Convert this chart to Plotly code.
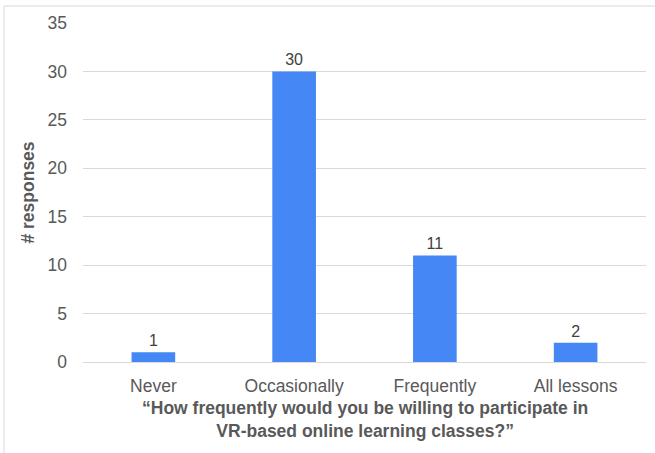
import plotly.graph_objects as go

categories = ["Never", "Occasionally", "Frequently", "All lessons"]
responses = [1, 30, 11, 2]
y_ticks = [0, 5, 10, 15, 20, 25, 30, 35]
x_title_lines = [
    "“How frequently would you be willing to participate in",
    "VR-based online learning classes?”",
]
y_title = "# responses"

FONT = "Liberation Sans, Arial, sans-serif"
TEXT = "#595959"

fig = go.Figure(
    go.Bar(
        x=categories,
        y=responses,
        width=0.31,
        marker=dict(color="#4487F5", line=dict(width=0)),
        text=[str(v) for v in responses],
        textposition="outside",
        textfont=dict(family=FONT, size=16, color="#404040"),
        cliponaxis=False,
    )
)

fig.update_layout(
    width=655,
    height=453,
    margin=dict(l=83, r=9, t=23, b=91),
    paper_bgcolor="white",
    plot_bgcolor="white",
    showlegend=False,
    font=dict(family=FONT, color=TEXT),
    bargap=0.69,
)

fig.update_yaxes(
    range=[0, 35],
    tickvals=y_ticks,
    showgrid=True,
    gridcolor="#d9d9d9",
    gridwidth=1,
    zeroline=True,
    zerolinecolor="#d9d9d9",
    zerolinewidth=1,
    ticks="",
    ticklabelstandoff=15,
    tickfont=dict(family=FONT, size=17.5, color=TEXT),
    title=dict(text="<b>" + y_title + "</b>", font=dict(family=FONT, size=17.5, color=TEXT), standoff=8),
)

fig.update_xaxes(
    showgrid=False,
    ticks="",
    tickfont=dict(family=FONT, size=17.5, color=TEXT),
    ticklabelstandoff=11,
)

# two-line bold axis caption below the category labels
fig.add_annotation(
    text="<br>".join("<b>" + line + "</b>" for line in x_title_lines),
    xref="paper", yref="paper",
    x=0.5, y=(362 - 419) / 339,
    xanchor="center", yanchor="middle",
    showarrow=False,
    font=dict(family=FONT, size=17.5, color=TEXT),
)

# chart frame
fig.add_shape(
    type="rect",
    xref="paper", yref="paper",
    x0=(4 - 83) / 563, x1=1.1,
    y0=(362 - 460) / 339, y1=(362 - 6) / 339,
    line=dict(color="#d9d9d9", width=1),
    fillcolor="rgba(0,0,0,0)",
    layer="below",
)

fig.write_html("out.html")
